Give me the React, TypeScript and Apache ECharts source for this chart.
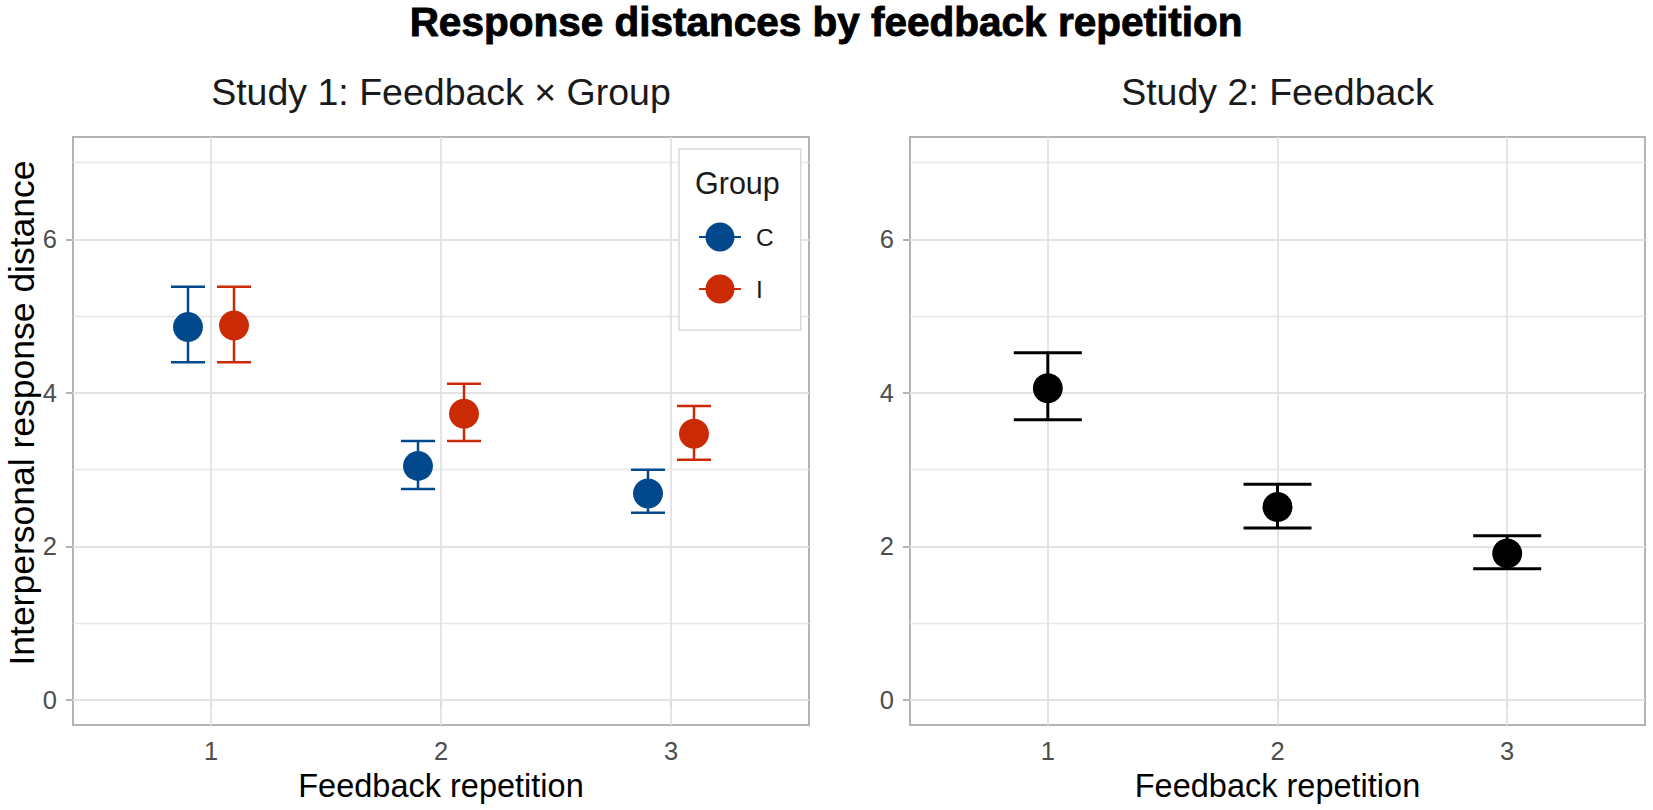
import React, { useEffect, useRef } from 'react';
import * as echarts from 'echarts';

// ---------- data ----------
const repetitions = [1, 2, 3];
const groupNames = ['C', 'I'];
const study1CMean = [4.86, 3.05, 2.69];
const study1CLower = [4.4, 2.75, 2.44];
const study1CUpper = [5.385, 3.375, 3.0];
const study1IMean = [4.88, 3.73, 3.47];
const study1ILower = [4.4, 3.375, 3.13];
const study1IUpper = [5.385, 4.12, 3.83];
const study2Mean = [4.06, 2.515, 1.91];
const study2Lower = [3.65, 2.24, 1.71];
const study2Upper = [4.525, 2.81, 2.14];
const yTickValues = [0, 2, 4, 6];
const yMinorGrid = [1, 3, 5, 7];
const xTickValues = [1, 2, 3];

const TITLE = 'Response distances by feedback repetition';
const SUBTITLE_1 = 'Study 1: Feedback \u00D7 Group';
const SUBTITLE_2 = 'Study 2: Feedback';
const X_TITLE = 'Feedback repetition';
const Y_TITLE = 'Interpersonal response distance';
const LEGEND_TITLE = 'Group';

// ---------- style / layout ----------
const FONT = "'Liberation Sans', Arial, Helvetica, sans-serif";
const BLUE = '#02488D';
const RED = '#CA2A04';
const BLACK = '#000000';
const GRID_LINE = '#E3E3E3';
const BORDER = '#B3B3B3';
const TICK_TEXT = '#4D4D4D';
const DODGE = 0.1;
const CAP_HALF_1 = 0.074;
const CAP_HALF_2 = 0.148;
const Y_MIN = -0.326;
const Y_MAX = 7.335;
const X_MIN = 0.4;
const X_MAX = 3.6;
const POINT_SIZE = 30;
const KEY_ICON =
  'path://M0,13.5H42V15.5H0Z M35.5,14.5A14.5,14.5,0,1,1,6.5,14.5A14.5,14.5,0,1,1,35.5,14.5Z';

function errorBarSeries(
  name: string,
  idx: number,
  xs: number[],
  lo: number[],
  hi: number[],
  color: string,
  capHalf: number,
  lw: number
) {
  return {
    type: 'custom',
    name,
    xAxisIndex: idx,
    yAxisIndex: idx,
    z: 3,
    silent: true,
    data: xs.map((x, i) => [x, lo[i], hi[i]]),
    encode: { x: 0, y: [1, 2] },
    renderItem: (params: any, api: any) => {
      const x = api.value(0);
      const top = api.coord([x, api.value(2)]);
      const bot = api.coord([x, api.value(1)]);
      const half = api.size([capHalf, 0])[0];
      const style = { stroke: color, lineWidth: lw, fill: null };
      return {
        type: 'group',
        children: [
          { type: 'line', shape: { x1: top[0], y1: top[1], x2: bot[0], y2: bot[1] }, style },
          { type: 'line', shape: { x1: top[0] - half, y1: top[1], x2: top[0] + half, y2: top[1] }, style },
          { type: 'line', shape: { x1: bot[0] - half, y1: bot[1], x2: bot[0] + half, y2: bot[1] }, style },
        ],
      };
    },
  };
}

function gridLineSeries(idx: number) {
  const major = { color: GRID_LINE, width: 1.8, type: 'solid' };
  const minor = { color: '#E7E7E7', width: 1.3, type: 'solid' };
  return {
    type: 'line',
    xAxisIndex: idx,
    yAxisIndex: idx,
    data: [],
    silent: true,
    z: 1,
    markLine: {
      silent: true,
      z: 1,
      symbol: ['none', 'none'],
      label: { show: false },
      emphasis: { disabled: true },
      data: [
        ...yTickValues.map((v) => ({ yAxis: v, lineStyle: major })),
        ...yMinorGrid.map((v) => ({ yAxis: v, lineStyle: minor })),
        ...xTickValues.map((v) => ({ xAxis: v, lineStyle: major })),
      ],
    },
  };
}

function xAxis(idx: number) {
  return {
    type: 'value',
    gridIndex: idx,
    min: X_MIN,
    max: X_MAX,
    splitLine: { show: false },
    axisLine: { show: false },
    axisTick: { show: true, customValues: xTickValues, length: 8, lineStyle: { color: BORDER, width: 2 } },
    axisLabel: { customValues: xTickValues, margin: 13, fontSize: 25.5, color: TICK_TEXT, fontFamily: FONT },
    name: X_TITLE,
    nameLocation: 'middle',
    nameGap: 44,
    nameTextStyle: { fontSize: 32.5, color: BLACK, fontFamily: FONT },
  };
}

function yAxis(idx: number) {
  return {
    type: 'value',
    gridIndex: idx,
    min: Y_MIN,
    max: Y_MAX,
    splitLine: { show: false },
    axisLine: { show: false },
    axisTick: { show: true, customValues: yTickValues, length: 7, lineStyle: { color: BORDER, width: 2 } },
    axisLabel: { customValues: yTickValues, margin: 16, fontSize: 25.5, color: TICK_TEXT, fontFamily: FONT },
  };
}

export default function App() {
  const ref = useRef<HTMLDivElement>(null);

  useEffect(() => {
    document.body.style.margin = '0';
    if (!ref.current) return;
    const chart = echarts.init(ref.current, null, { renderer: 'svg' });

    const cX = repetitions.map((r) => r - DODGE);
    const iX = repetitions.map((r) => r + DODGE);

    const option: any = {
      animation: false,
      backgroundColor: '#FFFFFF',
      grid: [
        { left: 73, top: 137, width: 736, height: 588, show: true, borderColor: BORDER, borderWidth: 2, backgroundColor: 'transparent' },
        { left: 910, top: 137, width: 735, height: 588, show: true, borderColor: BORDER, borderWidth: 2, backgroundColor: 'transparent' },
      ],
      xAxis: [xAxis(0), xAxis(1)],
      yAxis: [yAxis(0), yAxis(1)],
      legend: {
        data: groupNames.map((n) => ({ name: n, icon: KEY_ICON })),
        orient: 'vertical',
        left: 679,
        top: 149,
        itemWidth: 42,
        itemHeight: 29,
        itemGap: 23,
        padding: [73.5, 27, 26.5, 20],
        backgroundColor: '#FFFFFF',
        borderColor: '#D9D9D9',
        borderWidth: 1.5,
        selectedMode: false,
        textStyle: { fontSize: 24.5, color: '#1A1A1A', fontFamily: FONT, padding: [0, 0, 0, 10] },
      },
      graphic: [
        {
          type: 'text', x: 826, y: 22, z: 100,
          style: {
            text: TITLE, fontSize: 40.5, fontWeight: 'bold', fontFamily: FONT, fill: BLACK,
            stroke: BLACK, lineWidth: 0.9, align: 'center', verticalAlign: 'middle',
          },
        },
        {
          type: 'text', x: 441, y: 92, z: 100,
          style: { text: SUBTITLE_1, fontSize: 37.5, fontFamily: FONT, fill: '#1A1A1A', align: 'center', verticalAlign: 'middle' },
        },
        {
          type: 'text', x: 1277.5, y: 92, z: 100,
          style: { text: SUBTITLE_2, fontSize: 37.5, fontFamily: FONT, fill: '#1A1A1A', align: 'center', verticalAlign: 'middle' },
        },
        {
          type: 'text', x: 22, y: 413, rotation: Math.PI / 2, z: 100,
          style: { text: Y_TITLE, fontSize: 35.5, fontFamily: FONT, fill: BLACK, align: 'center', verticalAlign: 'middle' },
        },
        {
          type: 'text', x: 695, y: 183, z: 100,
          style: { text: LEGEND_TITLE, fontSize: 30.5, fontFamily: FONT, fill: '#1A1A1A', align: 'left', verticalAlign: 'middle' },
        },
      ],
      series: [
        gridLineSeries(0),
        gridLineSeries(1),
        errorBarSeries('C-err', 0, cX, study1CLower, study1CUpper, BLUE, CAP_HALF_1, 2.5),
        errorBarSeries('I-err', 0, iX, study1ILower, study1IUpper, RED, CAP_HALF_1, 2.5),
        errorBarSeries('S2-err', 1, repetitions, study2Lower, study2Upper, BLACK, CAP_HALF_2, 3),
        {
          type: 'scatter', name: groupNames[0], xAxisIndex: 0, yAxisIndex: 0, z: 4,
          symbol: 'circle', symbolSize: POINT_SIZE, itemStyle: { color: BLUE, opacity: 1 },
          data: cX.map((x, i) => [x, study1CMean[i]]),
        },
        {
          type: 'scatter', name: groupNames[1], xAxisIndex: 0, yAxisIndex: 0, z: 4,
          symbol: 'circle', symbolSize: POINT_SIZE, itemStyle: { color: RED, opacity: 1 },
          data: iX.map((x, i) => [x, study1IMean[i]]),
        },
        {
          type: 'scatter', name: 'Study 2', xAxisIndex: 1, yAxisIndex: 1, z: 4,
          symbol: 'circle', symbolSize: POINT_SIZE, itemStyle: { color: BLACK, opacity: 1 },
          data: repetitions.map((x, i) => [x, study2Mean[i]]),
        },
      ],
    };

    chart.setOption(option);
    return () => {
      chart.dispose();
    };
  }, []);

  return (
    <div
      ref={ref}
      style={{ position: 'fixed', left: 0, top: 0, width: '1653px', height: '810px', background: '#fff' }}
    />
  );
}
